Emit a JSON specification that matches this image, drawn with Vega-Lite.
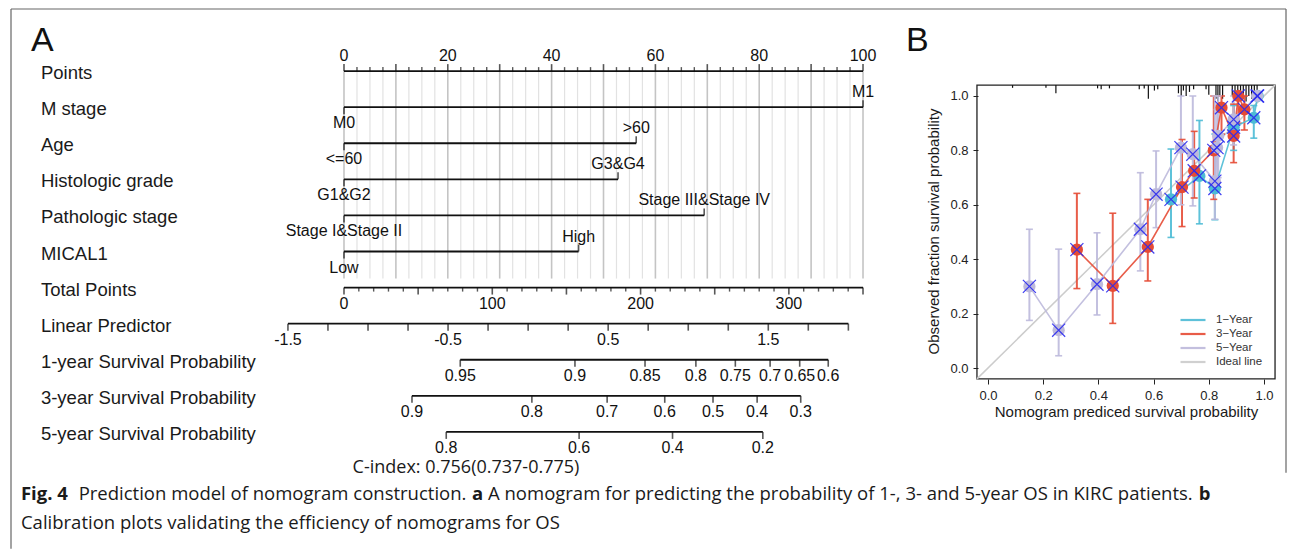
{
"$schema":"https://vega.github.io/schema/vega-lite/v6.json",
"background":"white",
"padding":{"left":10,"top":8,"right":0,"bottom":0},
"config":{"view":{"stroke":null},"font":"Liberation Sans"},
"datasets":{
"ticks":[
{"r":0,"p":0,"l":"0","s":"u","m":1},{"r":0,"p":2.5,"s":"u","m":0},{"r":0,"p":5,"s":"u","m":0},{"r":0,"p":7.5,"s":"u","m":0},
{"r":0,"p":10,"s":"u","m":1},{"r":0,"p":12.5,"s":"u","m":0},{"r":0,"p":15,"s":"u","m":0},{"r":0,"p":17.5,"s":"u","m":0},
{"r":0,"p":20,"l":"20","s":"u","m":1},{"r":0,"p":22.5,"s":"u","m":0},{"r":0,"p":25,"s":"u","m":0},{"r":0,"p":27.5,"s":"u","m":0},
{"r":0,"p":30,"s":"u","m":1},{"r":0,"p":32.5,"s":"u","m":0},{"r":0,"p":35,"s":"u","m":0},{"r":0,"p":37.5,"s":"u","m":0},
{"r":0,"p":40,"l":"40","s":"u","m":1},{"r":0,"p":42.5,"s":"u","m":0},{"r":0,"p":45,"s":"u","m":0},{"r":0,"p":47.5,"s":"u","m":0},
{"r":0,"p":50,"s":"u","m":1},{"r":0,"p":52.5,"s":"u","m":0},{"r":0,"p":55,"s":"u","m":0},{"r":0,"p":57.5,"s":"u","m":0},
{"r":0,"p":60,"l":"60","s":"u","m":1},{"r":0,"p":62.5,"s":"u","m":0},{"r":0,"p":65,"s":"u","m":0},{"r":0,"p":67.5,"s":"u","m":0},
{"r":0,"p":70,"s":"u","m":1},{"r":0,"p":72.5,"s":"u","m":0},{"r":0,"p":75,"s":"u","m":0},{"r":0,"p":77.5,"s":"u","m":0},
{"r":0,"p":80,"l":"80","s":"u","m":1},{"r":0,"p":82.5,"s":"u","m":0},{"r":0,"p":85,"s":"u","m":0},{"r":0,"p":87.5,"s":"u","m":0},
{"r":0,"p":90,"s":"u","m":1},{"r":0,"p":92.5,"s":"u","m":0},{"r":0,"p":95,"s":"u","m":0},{"r":0,"p":97.5,"s":"u","m":0},
{"r":0,"p":100,"l":"100","s":"u","m":1},
{"r":1,"p":0,"l":"M0","s":"d","m":1},{"r":1,"p":100,"l":"M1","s":"u","m":1},
{"r":2,"p":0,"l":"<=60","s":"d","m":1},{"r":2,"p":56.3,"l":">60","s":"u","m":1},
{"r":3,"p":0,"l":"G1&G2","s":"d","m":1},{"r":3,"p":52.8,"l":"G3&G4","s":"u","m":1},
{"r":4,"p":0,"l":"Stage I&Stage II","s":"d","m":1},{"r":4,"p":69.4,"l":"Stage III&Stage IV","s":"u","m":1},
{"r":5,"p":0,"l":"Low","s":"d","m":1},{"r":5,"p":45.2,"l":"High","s":"u","m":1},
{"r":6,"p":0,"l":"0","s":"d","m":1},{"r":6,"p":2.857,"s":"d","m":0},{"r":6,"p":5.714,"s":"d","m":0},{"r":6,"p":8.571,"s":"d","m":0},{"r":6,"p":11.429,"s":"d","m":0},
{"r":6,"p":14.286,"s":"d","m":1},{"r":6,"p":17.143,"s":"d","m":0},{"r":6,"p":20,"s":"d","m":0},{"r":6,"p":22.857,"s":"d","m":0},{"r":6,"p":25.714,"s":"d","m":0},
{"r":6,"p":28.571,"l":"100","s":"d","m":1},{"r":6,"p":31.429,"s":"d","m":0},{"r":6,"p":34.286,"s":"d","m":0},{"r":6,"p":37.143,"s":"d","m":0},{"r":6,"p":40,"s":"d","m":0},
{"r":6,"p":42.857,"s":"d","m":1},{"r":6,"p":45.714,"s":"d","m":0},{"r":6,"p":48.571,"s":"d","m":0},{"r":6,"p":51.429,"s":"d","m":0},{"r":6,"p":54.286,"s":"d","m":0},
{"r":6,"p":57.143,"l":"200","s":"d","m":1},{"r":6,"p":60,"s":"d","m":0},{"r":6,"p":62.857,"s":"d","m":0},{"r":6,"p":65.714,"s":"d","m":0},{"r":6,"p":68.571,"s":"d","m":0},
{"r":6,"p":71.429,"s":"d","m":1},{"r":6,"p":74.286,"s":"d","m":0},{"r":6,"p":77.143,"s":"d","m":0},{"r":6,"p":80,"s":"d","m":0},{"r":6,"p":82.857,"s":"d","m":0},
{"r":6,"p":85.714,"l":"300","s":"d","m":1},{"r":6,"p":88.571,"s":"d","m":0},{"r":6,"p":91.429,"s":"d","m":0},{"r":6,"p":94.286,"s":"d","m":0},{"r":6,"p":97.143,"s":"d","m":0},
{"r":6,"p":100,"s":"d","m":1},
{"r":7,"p":-10.8,"l":"-1.5","s":"d","m":1},{"r":7,"p":-3.09,"s":"d","m":1},{"r":7,"p":4.63,"s":"d","m":1},{"r":7,"p":12.34,"s":"d","m":1},
{"r":7,"p":20.05,"l":"-0.5","s":"d","m":1},{"r":7,"p":27.76,"s":"d","m":1},{"r":7,"p":35.48,"s":"d","m":1},{"r":7,"p":43.19,"s":"d","m":1},
{"r":7,"p":50.9,"l":"0.5","s":"d","m":1},{"r":7,"p":58.61,"s":"d","m":1},{"r":7,"p":66.33,"s":"d","m":1},{"r":7,"p":74.04,"s":"d","m":1},
{"r":7,"p":81.75,"l":"1.5","s":"d","m":1},{"r":7,"p":89.46,"s":"d","m":1},{"r":7,"p":97.18,"s":"d","m":1},
{"r":8,"p":22.4,"l":"0.95","s":"d","m":1},{"r":8,"p":44.5,"l":"0.9","s":"d","m":1},{"r":8,"p":58.0,"l":"0.85","s":"d","m":1},{"r":8,"p":67.8,"l":"0.8","s":"d","m":1},
{"r":8,"p":75.4,"l":"0.75","s":"d","m":1},{"r":8,"p":82.1,"l":"0.7","s":"d","m":1},{"r":8,"p":87.8,"l":"0.65","s":"d","m":1},{"r":8,"p":93.3,"l":"0.6","s":"d","m":1},
{"r":9,"p":13.1,"l":"0.9","s":"d","m":1},{"r":9,"p":36.2,"l":"0.8","s":"d","m":1},{"r":9,"p":50.7,"l":"0.7","s":"d","m":1},{"r":9,"p":61.8,"l":"0.6","s":"d","m":1},
{"r":9,"p":71.1,"l":"0.5","s":"d","m":1},{"r":9,"p":79.6,"l":"0.4","s":"d","m":1},{"r":9,"p":88.0,"l":"0.3","s":"d","m":1},
{"r":10,"p":19.7,"l":"0.8","s":"d","m":1},{"r":10,"p":45.3,"l":"0.6","s":"d","m":1},{"r":10,"p":63.3,"l":"0.4","s":"d","m":1},{"r":10,"p":80.7,"l":"0.2","s":"d","m":1}
],
"segs":[{"r":0,"a":0,"b":100},{"r":1,"a":0,"b":100},{"r":2,"a":0,"b":56.3},{"r":3,"a":0,"b":52.8},{"r":4,"a":0,"b":69.4},{"r":5,"a":0,"b":45.2},{"r":6,"a":0,"b":100},{"r":7,"a":-10.8,"b":97.18},{"r":8,"a":22.4,"b":93.3},{"r":9,"a":13.1,"b":88.0},{"r":10,"a":19.7,"b":80.7}],
"rows":[{"r":0,"name":"Points"},{"r":1,"name":"M stage"},{"r":2,"name":"Age"},{"r":3,"name":"Histologic grade"},{"r":4,"name":"Pathologic stage"},{"r":5,"name":"MICAL1"},{"r":6,"name":"Total Points"},{"r":7,"name":"Linear Predictor"},{"r":8,"name":"1-year Survival Probability"},{"r":9,"name":"3-year Survival Probability"},{"r":10,"name":"5-year Survival Probability"}],
"cal":[
{"series":"1−Year","x":0.663,"y":0.62,"lo":0.48,"hi":0.805},
{"series":"1−Year","x":0.766,"y":0.706,"lo":0.53,"hi":0.91},
{"series":"1−Year","x":0.822,"y":0.66,"lo":0.545,"hi":0.86},
{"series":"1−Year","x":0.89,"y":0.885,"lo":0.8,"hi":0.965},
{"series":"1−Year","x":0.963,"y":0.92,"lo":0.845,"hi":0.965},
{"series":"1−Year","x":0.977,"y":1.0,"lo":null,"hi":null},
{"series":"3−Year","x":0.322,"y":0.435,"lo":0.292,"hi":0.642},
{"series":"3−Year","x":0.452,"y":0.302,"lo":0.164,"hi":0.569},
{"series":"3−Year","x":0.579,"y":0.445,"lo":0.32,"hi":0.62},
{"series":"3−Year","x":0.703,"y":0.665,"lo":0.52,"hi":0.84},
{"series":"3−Year","x":0.747,"y":0.725,"lo":0.625,"hi":0.87},
{"series":"3−Year","x":0.818,"y":0.8,"lo":0.62,"hi":1.0},
{"series":"3−Year","x":0.846,"y":0.957,"lo":0.86,"hi":1.0},
{"series":"3−Year","x":0.89,"y":0.853,"lo":0.755,"hi":0.97},
{"series":"3−Year","x":0.907,"y":1.0,"lo":0.9,"hi":1.0},
{"series":"3−Year","x":0.929,"y":0.951,"lo":0.875,"hi":1.0},
{"series":"5−Year","x":0.15,"y":0.3,"lo":0.175,"hi":0.51},
{"series":"5−Year","x":0.256,"y":0.139,"lo":0.045,"hi":0.437},
{"series":"5−Year","x":0.395,"y":0.308,"lo":0.195,"hi":0.497},
{"series":"5−Year","x":0.552,"y":0.51,"lo":0.357,"hi":0.718},
{"series":"5−Year","x":0.609,"y":0.639,"lo":0.516,"hi":0.798},
{"series":"5−Year","x":0.699,"y":0.81,"lo":0.6,"hi":1.0},
{"series":"5−Year","x":0.742,"y":0.786,"lo":0.596,"hi":1.0},
{"series":"5−Year","x":0.822,"y":0.687,"lo":0.547,"hi":1.0},
{"series":"5−Year","x":0.83,"y":0.81,"lo":0.66,"hi":0.95},
{"series":"5−Year","x":0.834,"y":0.853,"lo":0.7,"hi":1.0},
{"series":"5−Year","x":0.89,"y":0.914,"lo":0.82,"hi":1.0},
{"series":"5−Year","x":0.975,"y":1.0,"lo":null,"hi":null}
],
"rug":[{"x":0.089,"low":1.03,"top":1.04},{"x":0.21,"low":1.03,"top":1.04},{"x":0.246,"low":1.01,"top":1.04},{"x":0.397,"low":1.028,"top":1.04},{"x":0.41,"low":1.025,"top":1.04},{"x":0.44,"low":1.028,"top":1.04},{"x":0.548,"low":1.025,"top":1.04},{"x":0.566,"low":1.028,"top":1.04},{"x":0.581,"low":0.99,"top":1.04},{"x":0.603,"low":1.02,"top":1.04},{"x":0.615,"low":1.025,"top":1.04},{"x":0.69,"low":1.01,"top":1.04},{"x":0.7,"low":1.0,"top":1.04},{"x":0.708,"low":1.02,"top":1.04},{"x":0.718,"low":1.0,"top":1.04},{"x":0.73,"low":1.015,"top":1.04},{"x":0.745,"low":1.025,"top":1.04},{"x":0.79,"low":1.025,"top":1.04},{"x":0.8,"low":1.005,"top":1.04},{"x":0.826,"low":0.99,"top":1.04},{"x":0.833,"low":0.98,"top":1.04},{"x":0.84,"low":1.0,"top":1.04},{"x":0.85,"low":0.99,"top":1.04},{"x":0.885,"low":1.0,"top":1.04},{"x":0.895,"low":0.99,"top":1.04},{"x":0.905,"low":1.005,"top":1.04},{"x":0.915,"low":0.985,"top":1.04},{"x":0.925,"low":0.99,"top":1.04},{"x":0.935,"low":0.98,"top":1.04},{"x":0.945,"low":1.0,"top":1.04},{"x":0.955,"low":0.99,"top":1.04},{"x":0.965,"low":1.0,"top":1.04},{"x":0.975,"low":1.01,"top":1.04}],
"frame":[{"side":"top","x0":-64.16,"x1":181.5,"y0":-1.7216,"y1":-1.7216},{"side":"right","x0":181.5,"x1":181.5,"y0":-1.7216,"y1":11.13},{"side":"left","x0":-64.16,"x1":-64.16,"y0":-1.7216,"y1":13.237}]
},
"spacing":0,
"bounds":"flush",
"hconcat":[
{"width":890,"height":469,
"layer":[
{"data":{"name":"frame"},"mark":{"type":"rule","color":"#666666","strokeWidth":1.2},
"encoding":{"x":{"field":"x0","type":"quantitative","scale":{"domain":[-64.16,107.32],"nice":false,"zero":false},"axis":null},"x2":{"field":"x1"},"y":{"field":"y0","type":"quantitative","scale":{"domain":[-1.5,11.5],"reverse":true,"nice":false,"zero":false},"axis":null},"y2":{"field":"y1"}}},
{"data":{"name":"ticks"},"transform":[{"filter":"datum.r == 0 && datum.m == 0"}],"mark":{"type":"rule","color":"#e2e2e2","strokeWidth":1.2},
"encoding":{"x":{"field":"p","type":"quantitative","scale":{"domain":[-64.16,107.32],"nice":false,"zero":false},"axis":null},"y":{"datum":0,"type":"quantitative","scale":{"domain":[-1.5,11.5],"reverse":true,"nice":false,"zero":false},"axis":null},"y2":{"datum":5.75}}},
{"data":{"name":"ticks"},"transform":[{"filter":"datum.r == 0 && datum.m == 1"}],"mark":{"type":"rule","color":"#c4c4c4","strokeWidth":1.6},
"encoding":{"x":{"field":"p","type":"quantitative","scale":{"domain":[-64.16,107.32],"nice":false,"zero":false},"axis":null},"y":{"datum":0,"type":"quantitative","scale":{"domain":[-1.5,11.5],"reverse":true,"nice":false,"zero":false},"axis":null},"y2":{"datum":5.75}}},
{"data":{"name":"segs"},"mark":{"type":"rule","color":"#111111","strokeWidth":1.8},
"encoding":{"x":{"field":"a","type":"quantitative","scale":{"domain":[-64.16,107.32],"nice":false,"zero":false},"axis":null},"x2":{"field":"b"},"y":{"field":"r","type":"quantitative","scale":{"domain":[-1.5,11.5],"reverse":true,"nice":false,"zero":false},"axis":null}}},
{"data":{"name":"ticks"},"transform":[{"filter":"datum.s == 'u' && datum.m == 1"}],"mark":{"type":"tick","orient":"vertical","size":7,"thickness":1.6,"color":"#111111","yOffset":-3.5},
"encoding":{"x":{"field":"p","type":"quantitative","scale":{"domain":[-64.16,107.32],"nice":false,"zero":false},"axis":null},"y":{"field":"r","type":"quantitative","scale":{"domain":[-1.5,11.5],"reverse":true,"nice":false,"zero":false},"axis":null}}},
{"data":{"name":"ticks"},"transform":[{"filter":"datum.s == 'u' && datum.m == 0"}],"mark":{"type":"tick","orient":"vertical","size":4,"thickness":1.4,"color":"#111111","yOffset":-2},
"encoding":{"x":{"field":"p","type":"quantitative","scale":{"domain":[-64.16,107.32],"nice":false,"zero":false},"axis":null},"y":{"field":"r","type":"quantitative","scale":{"domain":[-1.5,11.5],"reverse":true,"nice":false,"zero":false},"axis":null}}},
{"data":{"name":"ticks"},"transform":[{"filter":"datum.s == 'd' && datum.m == 1"}],"mark":{"type":"tick","orient":"vertical","size":7,"thickness":1.6,"color":"#111111","yOffset":3.5},
"encoding":{"x":{"field":"p","type":"quantitative","scale":{"domain":[-64.16,107.32],"nice":false,"zero":false},"axis":null},"y":{"field":"r","type":"quantitative","scale":{"domain":[-1.5,11.5],"reverse":true,"nice":false,"zero":false},"axis":null}}},
{"data":{"name":"ticks"},"transform":[{"filter":"datum.s == 'd' && datum.m == 0"}],"mark":{"type":"tick","orient":"vertical","size":4,"thickness":1.4,"color":"#111111","yOffset":2},
"encoding":{"x":{"field":"p","type":"quantitative","scale":{"domain":[-64.16,107.32],"nice":false,"zero":false},"axis":null},"y":{"field":"r","type":"quantitative","scale":{"domain":[-1.5,11.5],"reverse":true,"nice":false,"zero":false},"axis":null}}},
{"data":{"name":"ticks"},"transform":[{"filter":"datum.s == 'u' && datum.l != null"}],"mark":{"type":"text","fontSize":16,"color":"#111111","dy":-15,"baseline":"middle"},
"encoding":{"x":{"field":"p","type":"quantitative","scale":{"domain":[-64.16,107.32],"nice":false,"zero":false},"axis":null},"y":{"field":"r","type":"quantitative","scale":{"domain":[-1.5,11.5],"reverse":true,"nice":false,"zero":false},"axis":null},"text":{"field":"l"}}},
{"data":{"name":"ticks"},"transform":[{"filter":"datum.s == 'd' && datum.l != null"}],"mark":{"type":"text","fontSize":16,"color":"#111111","dy":16,"baseline":"middle"},
"encoding":{"x":{"field":"p","type":"quantitative","scale":{"domain":[-64.16,107.32],"nice":false,"zero":false},"axis":null},"y":{"field":"r","type":"quantitative","scale":{"domain":[-1.5,11.5],"reverse":true,"nice":false,"zero":false},"axis":null},"text":{"field":"l"}}},
{"data":{"name":"rows"},"mark":{"type":"text","align":"left","fontSize":18.5,"color":"#1a1a1a","baseline":"middle","dy":2},
"encoding":{"x":{"datum":-58.4,"type":"quantitative","scale":{"domain":[-64.16,107.32],"nice":false,"zero":false},"axis":null},"y":{"field":"r","type":"quantitative","scale":{"domain":[-1.5,11.5],"reverse":true,"nice":false,"zero":false},"axis":null},"text":{"field":"name"}}},
{"data":{"values":[{}]},"mark":{"type":"text","text":"A","fontSize":34,"align":"left","baseline":"middle","color":"#111111"},
"encoding":{"x":{"datum":-60.3,"type":"quantitative","scale":{"domain":[-64.16,107.32],"nice":false,"zero":false},"axis":null},"y":{"datum":-0.84,"type":"quantitative","scale":{"domain":[-1.5,11.5],"reverse":true,"nice":false,"zero":false},"axis":null}}},
{"data":{"values":[{}]},"mark":{"type":"text","text":"C-index: 0.756(0.737-0.775)","font":"Open Sans","fontSize":18,"align":"center","baseline":"middle","color":"#1a1a1a"},
"encoding":{"x":{"datum":23.5,"type":"quantitative","scale":{"domain":[-64.16,107.32],"nice":false,"zero":false},"axis":null},"y":{"datum":11,"type":"quantitative","scale":{"domain":[-1.5,11.5],"reverse":true,"nice":false,"zero":false},"axis":null}}},
{"data":{"values":[{}]},"mark":{"type":"text","text":"Fig. 4","font":"Open Sans","fontSize":18.5,"fontWeight":"bold","align":"left","baseline":"middle","color":"#1a1a1a"},
"encoding":{"x":{"datum":-62.24,"type":"quantitative","scale":{"domain":[-64.16,107.32],"nice":false,"zero":false},"axis":null},"y":{"datum":11.713,"type":"quantitative","scale":{"domain":[-1.5,11.5],"reverse":true,"nice":false,"zero":false},"axis":null}}},
{"data":{"values":[{}]},"mark":{"type":"text","text":"Prediction model of nomogram construction.","font":"Open Sans","fontSize":18.5,"align":"left","baseline":"middle","color":"#1a1a1a"},
"encoding":{"x":{"datum":-51.12,"type":"quantitative","scale":{"domain":[-64.16,107.32],"nice":false,"zero":false},"axis":null},"y":{"datum":11.713,"type":"quantitative","scale":{"domain":[-1.5,11.5],"reverse":true,"nice":false,"zero":false},"axis":null}}},
{"data":{"values":[{}]},"mark":{"type":"text","text":"a","font":"Open Sans","fontSize":18.5,"fontWeight":"bold","align":"left","baseline":"middle","color":"#1a1a1a"},
"encoding":{"x":{"datum":24.68,"type":"quantitative","scale":{"domain":[-64.16,107.32],"nice":false,"zero":false},"axis":null},"y":{"datum":11.713,"type":"quantitative","scale":{"domain":[-1.5,11.5],"reverse":true,"nice":false,"zero":false},"axis":null}}},
{"data":{"values":[{}]},"mark":{"type":"text","text":"A nomogram for predicting the probability of 1-, 3- and 5-year OS in KIRC patients.","font":"Open Sans","fontSize":18.5,"align":"left","baseline":"middle","color":"#1a1a1a"},
"encoding":{"x":{"datum":27.75,"type":"quantitative","scale":{"domain":[-64.16,107.32],"nice":false,"zero":false},"axis":null},"y":{"datum":11.713,"type":"quantitative","scale":{"domain":[-1.5,11.5],"reverse":true,"nice":false,"zero":false},"axis":null}}},
{"data":{"values":[{}]},"mark":{"type":"text","text":"b","font":"Open Sans","fontSize":18.5,"fontWeight":"bold","align":"left","baseline":"middle","color":"#1a1a1a"},
"encoding":{"x":{"datum":164.68,"type":"quantitative","scale":{"domain":[-64.16,107.32],"nice":false,"zero":false},"axis":null},"y":{"datum":11.713,"type":"quantitative","scale":{"domain":[-1.5,11.5],"reverse":true,"nice":false,"zero":false},"axis":null}}},
{"data":{"values":[{}]},"mark":{"type":"text","text":"Calibration plots validating the efficiency of nomograms for OS","font":"Open Sans","fontSize":18.5,"align":"left","baseline":"middle","color":"#1a1a1a"},
"encoding":{"x":{"datum":-62.24,"type":"quantitative","scale":{"domain":[-64.16,107.32],"nice":false,"zero":false},"axis":null},"y":{"datum":12.517,"type":"quantitative","scale":{"domain":[-1.5,11.5],"reverse":true,"nice":false,"zero":false},"axis":null}}}
]},
{"width":385,"height":469,
"layer":[
{"data":{"values":[{}]},"mark":{"type":"rect","filled":false,"stroke":"#222222","strokeWidth":1.3},
"encoding":{"x":{"datum":-0.04,"type":"quantitative","scale":{"domain":[-0.3152,1.0797],"nice":false,"zero":false},"axis":{"values":[0,0.2,0.4,0.6,0.8,1],"format":".1f","domain":false,"grid":false,"offset":-107,"tickSize":5,"tickColor":"#222222","labelFontSize":13,"labelColor":"#222222","labelPadding":5,"title":"Nomogram prediced survival probability","titleFontSize":15,"titleFontWeight":"normal","titleColor":"#1a1a1a","titlePadding":2,"titleX":225}},"x2":{"datum":1.04},
"y":{"datum":-0.04,"type":"quantitative","scale":{"domain":[-0.4338,1.2904],"nice":false,"zero":false},"axis":{"values":[0,0.2,0.4,0.6,0.8,1],"format":".1f","domain":false,"grid":false,"offset":-77,"tickSize":5,"tickColor":"#222222","labelFontSize":13,"labelColor":"#222222","labelPadding":5,"title":"Observed fraction survival probability","titleFontSize":15,"titleFontWeight":"normal","titleColor":"#1a1a1a","titlePadding":8,"titleY":214}},"y2":{"datum":1.04}}},
{"data":{"values":[{}]},"mark":{"type":"rule","strokeWidth":1.5},
"encoding":{"x":{"datum":-0.04,"type":"quantitative","scale":{"domain":[-0.3152,1.0797],"nice":false,"zero":false}},"x2":{"datum":1.04},"y":{"datum":-0.04,"type":"quantitative","scale":{"domain":[-0.4338,1.2904],"nice":false,"zero":false}},"y2":{"datum":1.04},
"color":{"datum":"Ideal line","type":"nominal","scale":{"domain":["1−Year","3−Year","5−Year","Ideal line"],"range":["#4DBBD5","#E64B35","#BDB9DB","#cccccc"]},"legend":{"title":null,"orient":"none","legendX":1168,"legendY":296,"symbolType":"stroke","symbolSize":625,"symbolStrokeWidth":2.2,"clipHeight":14,"rowPadding":0,"labelOffset":9,"labelFontSize":11.5,"labelColor":"#333333","labelFont":"Liberation Sans"}}}},
{"data":{"name":"rug"},"mark":{"type":"rule","color":"#111111","strokeWidth":1.2},
"encoding":{"x":{"field":"x","type":"quantitative","scale":{"domain":[-0.3152,1.0797],"nice":false,"zero":false}},"y":{"field":"low","type":"quantitative","scale":{"domain":[-0.4338,1.2904],"nice":false,"zero":false}},"y2":{"field":"top"}}},
{"data":{"name":"cal"},"mark":{"type":"rule","strokeWidth":2,"opacity":0.9},
"encoding":{"x":{"field":"x","type":"quantitative","scale":{"domain":[-0.3152,1.0797],"nice":false,"zero":false}},"y":{"field":"lo","type":"quantitative","scale":{"domain":[-0.4338,1.2904],"nice":false,"zero":false}},"y2":{"field":"hi"},
"color":{"field":"series","type":"nominal","scale":{"domain":["1−Year","3−Year","5−Year","Ideal line"],"range":["#4DBBD5","#E64B35","#BDB9DB","#cccccc"]},"legend":{"title":null,"orient":"none","legendX":1168,"legendY":296,"symbolType":"stroke","symbolSize":625,"symbolStrokeWidth":2.2,"clipHeight":14,"rowPadding":0,"labelOffset":9,"labelFontSize":11.5,"labelColor":"#333333","labelFont":"Liberation Sans"}}}},
{"data":{"name":"cal"},"mark":{"type":"tick","orient":"horizontal","size":7,"thickness":1.6,"opacity":0.9},
"encoding":{"x":{"field":"x","type":"quantitative","scale":{"domain":[-0.3152,1.0797],"nice":false,"zero":false}},"y":{"field":"lo","type":"quantitative","scale":{"domain":[-0.4338,1.2904],"nice":false,"zero":false}},
"color":{"field":"series","type":"nominal","scale":{"domain":["1−Year","3−Year","5−Year","Ideal line"],"range":["#4DBBD5","#E64B35","#BDB9DB","#cccccc"]},"legend":{"title":null,"orient":"none","legendX":1168,"legendY":296,"symbolType":"stroke","symbolSize":625,"symbolStrokeWidth":2.2,"clipHeight":14,"rowPadding":0,"labelOffset":9,"labelFontSize":11.5,"labelColor":"#333333","labelFont":"Liberation Sans"}}}},
{"data":{"name":"cal"},"mark":{"type":"tick","orient":"horizontal","size":7,"thickness":1.6,"opacity":0.9},
"encoding":{"x":{"field":"x","type":"quantitative","scale":{"domain":[-0.3152,1.0797],"nice":false,"zero":false}},"y":{"field":"hi","type":"quantitative","scale":{"domain":[-0.4338,1.2904],"nice":false,"zero":false}},
"color":{"field":"series","type":"nominal","scale":{"domain":["1−Year","3−Year","5−Year","Ideal line"],"range":["#4DBBD5","#E64B35","#BDB9DB","#cccccc"]},"legend":{"title":null,"orient":"none","legendX":1168,"legendY":296,"symbolType":"stroke","symbolSize":625,"symbolStrokeWidth":2.2,"clipHeight":14,"rowPadding":0,"labelOffset":9,"labelFontSize":11.5,"labelColor":"#333333","labelFont":"Liberation Sans"}}}},
{"data":{"name":"cal"},"mark":{"type":"line","strokeWidth":1.6,"opacity":0.9},
"encoding":{"x":{"field":"x","type":"quantitative","scale":{"domain":[-0.3152,1.0797],"nice":false,"zero":false}},"y":{"field":"y","type":"quantitative","scale":{"domain":[-0.4338,1.2904],"nice":false,"zero":false}},
"color":{"field":"series","type":"nominal","scale":{"domain":["1−Year","3−Year","5−Year","Ideal line"],"range":["#4DBBD5","#E64B35","#BDB9DB","#cccccc"]},"legend":{"title":null,"orient":"none","legendX":1168,"legendY":296,"symbolType":"stroke","symbolSize":625,"symbolStrokeWidth":2.2,"clipHeight":14,"rowPadding":0,"labelOffset":9,"labelFontSize":11.5,"labelColor":"#333333","labelFont":"Liberation Sans"}}}},
{"data":{"name":"cal"},"mark":{"type":"point","filled":true,"size":150,"opacity":1},
"encoding":{"x":{"field":"x","type":"quantitative","scale":{"domain":[-0.3152,1.0797],"nice":false,"zero":false}},
"y":{"field":"y","type":"quantitative","scale":{"domain":[-0.4338,1.2904],"nice":false,"zero":false}},
"color":{"field":"series","type":"nominal","scale":{"domain":["1−Year","3−Year","5−Year","Ideal line"],"range":["#4DBBD5","#E64B35","#BDB9DB","#cccccc"]},"legend":{"title":null,"orient":"none","legendX":1168,"legendY":296,"symbolType":"stroke","symbolSize":625,"symbolStrokeWidth":2.2,"clipHeight":14,"rowPadding":0,"labelOffset":9,"labelFontSize":11.5,"labelColor":"#333333","labelFont":"Liberation Sans"}}}},
{"data":{"name":"cal"},"mark":{"type":"point","shape":"M-1,-1L1,1M-1,1L1,-1","filled":false,"stroke":"#2b2bf0","strokeWidth":1.2,"size":170,"opacity":0.9},
"encoding":{"x":{"field":"x","type":"quantitative","scale":{"domain":[-0.3152,1.0797],"nice":false,"zero":false}},"y":{"field":"y","type":"quantitative","scale":{"domain":[-0.4338,1.2904],"nice":false,"zero":false}}}},
{"data":{"values":[{}]},"mark":{"type":"text","text":"B","fontSize":34,"align":"left","baseline":"middle","color":"#111111"},
"encoding":{"x":{"datum":-0.297,"type":"quantitative","scale":{"domain":[-0.3152,1.0797],"nice":false,"zero":false}},"y":{"datum":1.202,"type":"quantitative","scale":{"domain":[-0.4338,1.2904],"nice":false,"zero":false}}}}
]}
]
}
